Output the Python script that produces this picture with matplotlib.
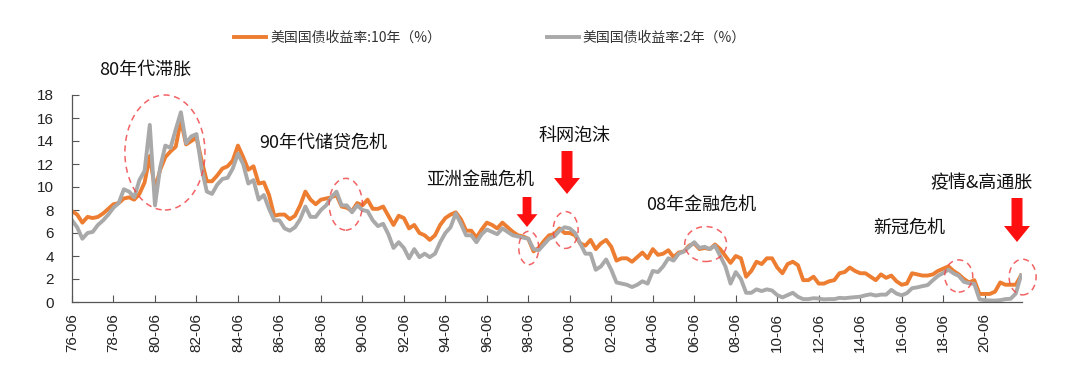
import matplotlib
matplotlib.use("Agg")
import matplotlib.pyplot as plt
import matplotlib.patches as mpatches
from matplotlib.transforms import IdentityTransform
import pandas as pd

plt.rcParams['font.family'] = ['Liberation Sans', 'Noto Sans CJK SC', 'DejaVu Sans']

# ---------------- data (quarter-end readings, Jun 1976 .. Mar 2022) ----------------
periods = pd.period_range('1976Q2', '2022Q1', freq='Q')

yield_10y = [
    7.9, 7.6, 6.9,
    7.4, 7.3, 7.4, 7.7,
    8.1, 8.5, 8.6, 9.0,
    9.1, 8.9, 9.4, 10.4,
    12.7, 9.8, 11.5, 12.6,
    13.1, 13.5, 15.8, 13.7,
    14.0, 14.3, 12.3, 10.5,
    10.5, 11.0, 11.6, 11.8,
    12.3, 13.6, 12.6, 11.5,
    11.8, 10.3, 10.4, 9.3,
    7.5, 7.6, 7.6, 7.2,
    7.5, 8.4, 9.6, 8.9,
    8.5, 8.9, 9.0, 9.1,
    9.3, 8.3, 8.2, 7.9,
    8.6, 8.4, 8.9, 8.1,
    8.1, 8.3, 7.5, 6.7,
    7.5, 7.3, 6.4, 6.7,
    6.0, 5.8, 5.4, 5.8,
    6.7, 7.3, 7.6, 7.8,
    7.2, 6.2, 6.2, 5.6,
    6.3, 6.9, 6.7, 6.4,
    6.9, 6.5, 6.1, 5.8,
    5.7, 5.5, 4.4, 4.7,
    5.3, 5.8, 5.9, 6.4,
    6.0, 6.0, 5.8, 5.1,
    4.9, 5.4, 4.6, 5.1,
    5.4, 4.8, 3.6, 3.8,
    3.8, 3.5, 3.9, 4.3,
    3.8, 4.6, 4.1, 4.2,
    4.5, 3.9, 4.3, 4.4,
    4.9, 5.1, 4.6, 4.7,
    4.6, 5.0, 4.6, 4.0,
    3.4, 4.0, 3.8, 2.2,
    2.7, 3.5, 3.3, 3.8,
    3.8, 3.0, 2.5, 3.3,
    3.5, 3.2, 1.9, 1.9,
    2.2, 1.6, 1.6, 1.8,
    1.9, 2.5, 2.6, 3.0,
    2.7, 2.5, 2.5, 2.2,
    1.9, 2.4, 2.1, 2.3,
    1.8, 1.5, 1.6, 2.5,
    2.4, 2.3, 2.3, 2.4,
    2.7, 2.9, 3.1, 2.7,
    2.4, 2.0, 1.7, 1.9,
    0.7, 0.7, 0.7, 0.9,
    1.7, 1.5, 1.5, 1.5,
    2.3,
]

yield_2y = [
    7.1, 6.5, 5.5,
    6.0, 6.1, 6.7, 7.1,
    7.6, 8.2, 8.6, 9.8,
    9.6, 9.1, 10.6, 11.4,
    15.4, 8.4, 11.7, 13.6,
    13.4, 15.0, 16.5, 13.8,
    14.4, 14.6, 11.6, 9.6,
    9.4, 10.2, 10.7, 10.8,
    11.6, 12.9, 12.0, 10.3,
    10.6, 8.9, 9.3, 8.1,
    7.1, 7.1, 6.4, 6.2,
    6.5, 7.2, 8.3, 7.4,
    7.4, 8.0, 8.4, 9.1,
    9.6, 8.4, 8.4, 7.8,
    8.4, 8.0, 7.9, 7.1,
    6.6, 6.8, 5.9, 4.7,
    5.2, 4.7, 3.8, 4.6,
    3.9, 4.2, 3.9, 4.2,
    5.2, 6.0, 6.5, 7.7,
    6.8, 5.8, 5.8, 5.2,
    5.9, 6.3, 6.1, 5.9,
    6.4, 6.1, 5.8, 5.7,
    5.6, 5.5, 4.6, 4.5,
    5.0, 5.5, 5.7, 6.2,
    6.5, 6.4, 6.0, 5.1,
    4.2, 4.2, 2.8, 3.1,
    3.7, 2.8, 1.7, 1.6,
    1.5, 1.3, 1.5, 1.8,
    1.6, 2.7, 2.6, 3.1,
    3.8, 3.6, 4.2, 4.4,
    4.8, 5.2, 4.7, 4.8,
    4.6, 4.9, 4.0, 3.1,
    1.6, 2.6, 2.0, 0.8,
    0.8, 1.1, 0.95, 1.1,
    1.0, 0.6, 0.4, 0.6,
    0.8, 0.45, 0.25, 0.25,
    0.33, 0.3, 0.23, 0.25,
    0.25, 0.36, 0.33, 0.38,
    0.42, 0.46, 0.58, 0.67,
    0.56, 0.64, 0.64, 1.06,
    0.73, 0.58, 0.77, 1.2,
    1.27, 1.38, 1.47, 1.89,
    2.27, 2.52, 2.81, 2.49,
    2.27, 1.75, 1.63, 1.58,
    0.23, 0.16, 0.13, 0.12,
    0.16, 0.25, 0.28, 0.73,
    2.3,
]

tick_years = list(range(1976, 2021, 2))
tick_labels = [f"{y % 100:02d}-06" for y in tick_years]

label_10y = "美国国债收益率:10年（%）"
label_2y = "美国国债收益率:2年（%）"

# event annotations: (text, x_pixel_center, y_pixel_center)
events = [
    ("80年代滞胀", 145, 70),
    ("90年代储贷危机", 323, 143),
    ("科网泡沫", 575, 136),
    ("亚洲金融危机", 480, 180),
    ("08年金融危机", 701, 205),
    ("新冠危机", 909, 228),
    ("疫情&高通胀", 982, 183),
]
# circled episodes: (center year, center value, width years, height value)
circles = [
    (1980.98, 13.0, 3.86, 10.0),
    (1989.7, 8.5, 1.6, 4.5),
    (1998.52, 4.7, 0.96, 2.9),
    (2000.3, 6.26, 1.2, 3.2),
    (2007.05, 5.04, 2.02, 3.04),
    (2019.25, 2.26, 1.35, 2.8),
    (2022.33, 2.17, 1.3, 3.1),
]
# red arrows (x center px, top px, tip px, scale)
arrows = [
    (527, 197, 227, 0.8),
    (567, 151, 194, 1.0),
    (1017, 198, 242, 1.0),
]

# ---------------- figure ----------------
W, H = 1080, 388
fig = plt.figure(figsize=(W / 100, H / 100), dpi=100)
ax = fig.add_axes([72 / W, 1 - 302 / H, 950 / W, 207 / H])

x = [p.year + p.month / 12 for p in [pp.asfreq('M', 'end') for pp in periods]]

ax.plot(x, yield_10y, color='#ED7D31', lw=2.8, label=label_10y, solid_joinstyle='round')
ax.plot(x, yield_2y, color='#A9A9A9', lw=2.8, label=label_2y, solid_joinstyle='round')

ax.set_xlim(1976.5, 2022.3)
ax.set_ylim(0, 18)
ax.set_yticks(range(0, 19, 2))
ax.set_xticks([y + 0.5 for y in tick_years])
ax.set_xticklabels(tick_labels, rotation=90)
ax.tick_params(axis='both', direction='in', length=5, width=0.8, colors='#555555',
               labelcolor='#222222', labelsize=11)
ax.tick_params(axis='y', pad=13)
ax.tick_params(axis='x', pad=8)
for s in ['top', 'right']:
    ax.spines[s].set_visible(False)
for s in ['left', 'bottom']:
    ax.spines[s].set_color('#555555')
    ax.spines[s].set_linewidth(0.9)

for cx, cy, w, h in circles:
    e = mpatches.Ellipse((cx, cy), w, h, fill=False, edgecolor='#F0484A', lw=1.1,
                         ls=(0, (4, 3)), alpha=0.85, clip_on=False, zorder=5)
    ax.add_patch(e)

leg = fig.legend(loc='center', bbox_to_anchor=(490 / W, 1 - 38 / H), ncol=2,
                 frameon=False, fontsize=10, handlelength=2.3, columnspacing=7.6,
                 handletextpad=0.3, labelcolor='#333333')
for t in leg.get_texts():
    t.set_family(['Noto Sans CJK SC', 'DejaVu Sans'])

for txt, px, py in events:
    fig.text(px / W, 1 - py / H, txt, ha='center', va='center', fontsize=13,
             family=['Noto Sans CJK SC', 'DejaVu Sans'], color='#111111')

for cxp, top, tip, sc in arrows:
    sw = 5.5 * sc
    hw = 13 * sc
    hl = 16 * sc
    yt = H - top
    yp = H - tip
    yh = yp + hl
    verts = [(cxp - sw, yt), (cxp + sw, yt), (cxp + sw, yh), (cxp + hw, yh),
             (cxp, yp), (cxp - hw, yh), (cxp - sw, yh)]
    poly = mpatches.Polygon(verts, closed=True, facecolor='#FF1010', edgecolor='none',
                            transform=IdentityTransform())
    fig.patches.append(poly)

fig.savefig('out.png', dpi=100)
